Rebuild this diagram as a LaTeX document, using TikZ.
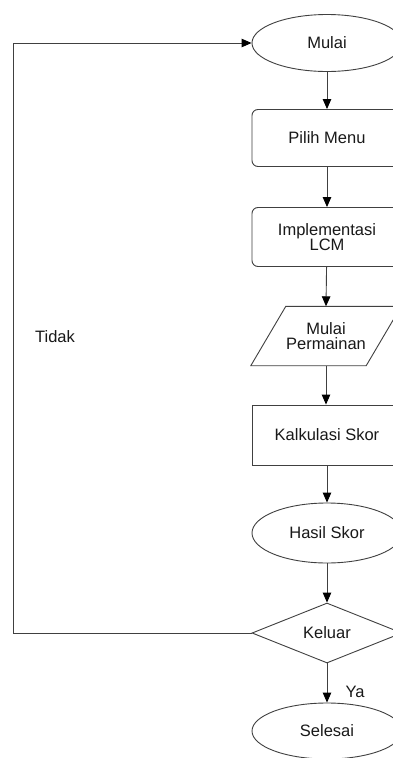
\documentclass[tikz,border=0pt]{standalone}
\usepackage{fontspec}
\setmainfont{Liberation Sans}
\usetikzlibrary{shapes.geometric,arrows.meta}
\begin{document}
\begin{tikzpicture}[x=1pt,y=-1pt,
  every node/.style={font=\fontsize{16.5}{18}\selectfont, text=black!90, align=center},
  line/.style={draw=black!75, line width=0.9pt},
  arr/.style={line, -{Triangle[length=10pt,width=8.5pt,fill=black,color=black]}},
  ell/.style={ellipse, line, minimum width=150pt, inner sep=0pt},
  rbox/.style={rectangle, rounded corners=6pt, line, minimum width=150pt, inner sep=0pt},
  sbox/.style={rectangle, line, minimum width=150pt, inner sep=0pt},
  dia/.style={diamond, line, minimum width=150pt, minimum height=60pt, inner sep=0pt, aspect=2.5}]
\useasboundingbox (0,0) rectangle (393,758);
\clip (0,0) rectangle (393,758);
\fill[white] (0,0) rectangle (393,758);

\node[ell, minimum height=57pt] (mulai) at (327,43) {Mulai};
\node[rbox, minimum height=57pt] (pilih) at (327,138) {Pilih Menu};
\node[rbox, minimum height=59pt] (impl) at (327,237) {Implementasi\\[-3pt]LCM};
\node[draw=none, minimum width=150pt, minimum height=59pt, inner sep=0pt] (perm) at (326,336) {Mulai\\[-3pt]Permainan};
\draw[line] (perm.south west) -- ([xshift=-35pt]perm.south east) -- (perm.north east) -- ([xshift=35pt]perm.north west) -- cycle;
\node[sbox, minimum height=60pt] (kalk) at (327,435) {Kalkulasi Skor};
\node[ell, minimum height=60pt] (hasil) at (327,533) {Hasil Skor};
\node[dia] (keluar) at (327,633) {Keluar};
\node[ell, minimum height=56pt] (selesai) at (327,731) {Selesai};

\coordinate (cl) at (13,336);

\draw[arr] (mulai) -- (pilih);
\draw[arr] (pilih) -- (impl);
\draw[arr] (impl) -- (perm.north);
\draw[arr] (perm.south) -- (kalk.north -| perm.south);
\draw[arr] (kalk) -- (hasil);
\draw[arr] (hasil) -- (keluar);
\draw[arr] (keluar) -- (selesai);
\draw[arr] (keluar.west) -- (keluar.west -| cl) -- (mulai.west -| cl) -- (mulai.west);

\node[anchor=center] (tidak) at (55,337) {Tidak};
\node[anchor=center] (ya) at (355,692) {Ya};
\end{tikzpicture}
\end{document}
